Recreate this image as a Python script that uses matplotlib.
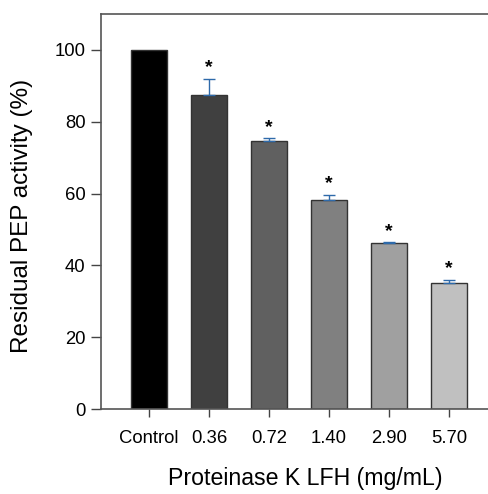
import numpy as np
import matplotlib.pyplot as plt

plt.rcParams['font.family'] = ['Liberation Sans', 'DejaVu Sans']

# dados
categorias = ['Control', '0.36', '0.72', '1.40', '2.90', '5.70']
atividade = [100.0, 87.5, 74.5, 58.2, 46.2, 35.1]
erro = [0.0, 4.5, 0.9, 1.5, 0.2, 0.9]
cores = ['#000000', '#404040', '#606060', '#808080', '#a0a0a0', '#c0c0c0']
marca = ['', '*', '*', '*', '*', '*']

fig = plt.figure(figsize=(4.88, 4.94), dpi=100)
ax = fig.add_axes([101/488, 1 - 409/494, 408/488, (409 - 14)/494])

x = np.arange(len(categorias))
ax.bar(x, atividade, width=0.61, color=cores, edgecolor='#333333', linewidth=1.0, zorder=2)
ax.errorbar(x[1:], atividade[1:], yerr=[np.zeros(5), erro[1:]], fmt='none',
            ecolor='#2e6aaa', elinewidth=1.0, capsize=4, capthick=1.0, zorder=3)
for xi, v, e, m in zip(x, atividade, erro, marca):
    if m:
        ax.text(xi, v + e + 3.0, m, ha='center', va='center', fontsize=14,
                fontweight='bold')

ax.set_xlim(-0.8, 6.0)
ax.set_ylim(0, 110)
ax.set_yticks([0, 20, 40, 60, 80, 100])
ax.set_xticks(x)
ax.set_xticklabels(categorias)
ax.tick_params(direction='out', length=7, width=1, color='#444444', labelsize=13.3, pad=4)
ax.tick_params(axis='x', length=6, pad=9)
for s in ['left', 'bottom', 'top']:
    ax.spines[s].set_color('#555555')
    ax.spines[s].set_linewidth(1.2)
ax.spines['right'].set_visible(False)

ax.set_ylabel('Residual PEP activity (%)', fontsize=17.5)
ax.set_xlabel('Proteinase K LFH (mg/mL)', fontsize=16.7)
ax.yaxis.set_label_coords(-68/408, 0.49)
ax.xaxis.set_label_coords((305 - 101)/408, -58/395)

fig.savefig('out.png', dpi=100)
